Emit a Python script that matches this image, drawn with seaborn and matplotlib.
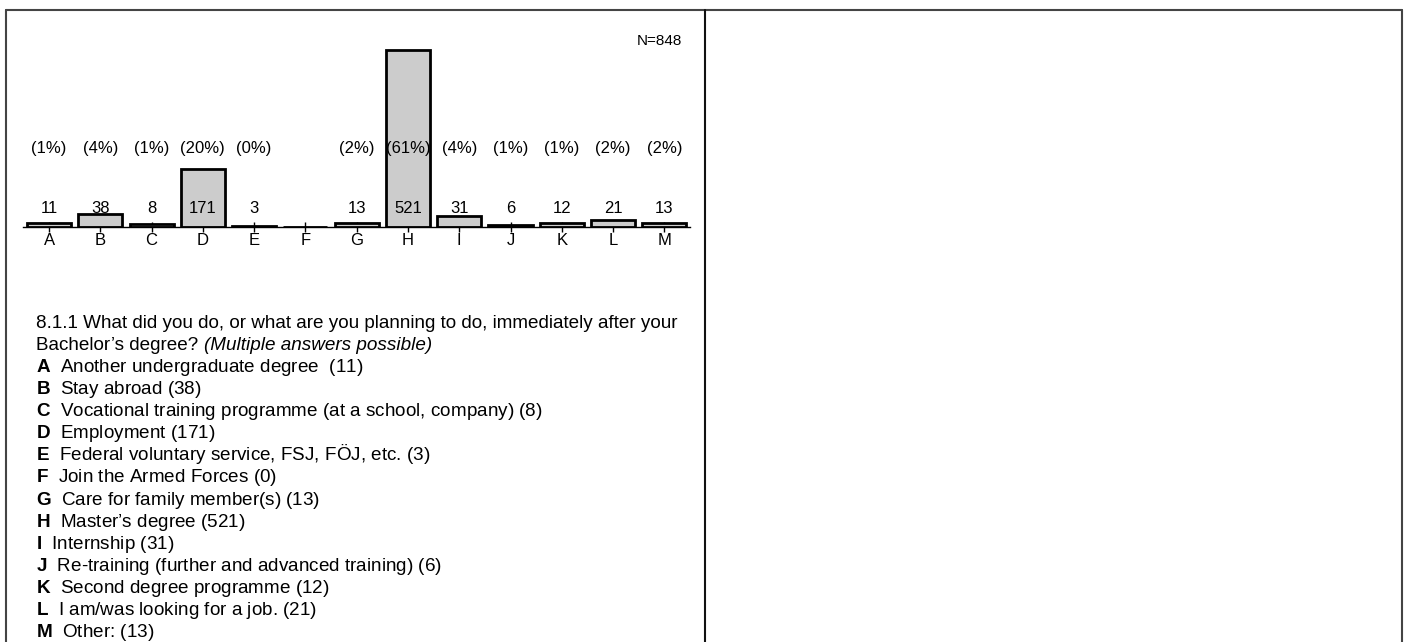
import pandas as pd
import matplotlib.pyplot as plt
import seaborn as sns
from matplotlib.lines import Line2D

# Data
categories = ['A', 'B', 'C', 'D', 'E', 'F', 'G', 'H', 'I', 'J', 'K', 'L', 'M']
counts = [11, 38, 8, 171, 3, 0, 13, 521, 31, 6, 12, 21, 13]
pct_labels = ['(1%)', '(4%)', '(1%)', '(20%)', '(0%)', '', '(2%)', '(61%)',
              '(4%)', '(1%)', '(1%)', '(2%)', '(2%)']
count_labels = ['11', '38', '8', '171', '3', '', '13', '521', '31', '6', '12', '21', '13']
total_n = 848

question = '8.1.1 What did you do, or what are you planning to do, immediately after your'
question2 = 'Bachelor’s degree?'
question_note = '(Multiple answers possible)'
answers = ['Another undergraduate degree  (11)',
           'Stay abroad (38)',
           'Vocational training programme (at a school, company) (8)',
           'Employment (171)',
           'Federal voluntary service, FSJ, FÖJ, etc. (3)',
           'Join the Armed Forces (0)',
           'Care for family member(s) (13)',
           'Master’s degree (521)',
           'Internship (31)',
           'Re-training (further and advanced training) (6)',
           'Second degree programme (12)',
           'I am/was looking for a job. (21)',
           'Other: (13)']

sns.set_style('white')
plt.rcParams['font.family'] = ['Liberation Sans', 'DejaVu Sans']
plt.rcParams['text.color'] = 'black'
plt.rcParams['xtick.color'] = 'black'
plt.rcParams['axes.labelcolor'] = 'black'
plt.rcParams['mathtext.fontset'] = 'custom'
plt.rcParams['mathtext.rm'] = 'Liberation Sans'
plt.rcParams['mathtext.bf'] = 'Liberation Sans:bold'

W, H = 1407, 642
fig = plt.figure(figsize=(W / 100, H / 100), dpi=100)


def fx(x):
    return x / W


def fy(y):
    return 1 - y / H


# bar chart area (pixel layout of the reference)
base_y = 227
ymax = 560
px_per_unit = 177 / 521
ax_top = base_y - ymax * px_per_unit
ax = fig.add_axes([fx(23.4), fy(base_y), fx(690) - fx(23.4), (base_y - ax_top) / H])

df = pd.DataFrame({'cat': categories, 'n': counts})
sns.barplot(data=df, x='cat', y='n', color='#cccccc', saturation=1,
            edgecolor='black', linewidth=2, width=0.86, ax=ax)
ax.set_ylim(0, ymax)
ax.set_xlim(-0.5, len(categories) - 0.5)
ax.set_xlabel('')
ax.set_ylabel('')
ax.set_yticks([])
for s in ['top', 'left', 'right']:
    ax.spines[s].set_visible(False)
ax.spines['bottom'].set_color('black')
ax.spines['bottom'].set_linewidth(1)
ax.tick_params(axis='x', direction='inout', length=7, width=1, color='black',
               labelcolor='black', bottom=True, labelsize=12, pad=1)

for i in range(len(categories)):
    ax.text(i, 40, count_labels[i], ha='center', va='baseline', fontsize=12, zorder=5)
    ax.text(i, 217, pct_labels[i], ha='center', va='baseline', fontsize=12, zorder=5)

fig.text(fx(682), fy(45), f'N={total_n}', ha='right', va='baseline', fontsize=11)

# question and answer list
fs = 13.6
step = 22.07
fig.text(fx(36), fy(328), question, ha='left', va='baseline', fontsize=fs)
t2 = fig.text(fx(36), fy(328 + step), question2, ha='left', va='baseline', fontsize=fs)
ax.annotate(question_note, xy=(1, 0), xycoords=t2, xytext=(4, 0),
            textcoords='offset points', ha='left', va='bottom',
            fontsize=fs, fontstyle='italic', annotation_clip=False)
for k, (c, a) in enumerate(zip(categories, answers)):
    fig.text(fx(36), fy(328 + step * (k + 2)), rf'$\mathbf{{{c}}}$  {a}',
             ha='left', va='baseline', fontsize=fs)

# table borders
border = dict(transform=fig.transFigure, lw=1.5)
fig.add_artist(Line2D([fx(6), fx(1402)], [fy(10), fy(10)], color='#444444', **border))
fig.add_artist(Line2D([fx(6), fx(6)], [fy(10), 0], color='#444444', **border))
fig.add_artist(Line2D([fx(705), fx(705)], [fy(10), 0], color='#111111', **border))
fig.add_artist(Line2D([fx(1402), fx(1402)], [fy(10), 0], color='#444444', **border))

fig.savefig('out.png', dpi=100)
